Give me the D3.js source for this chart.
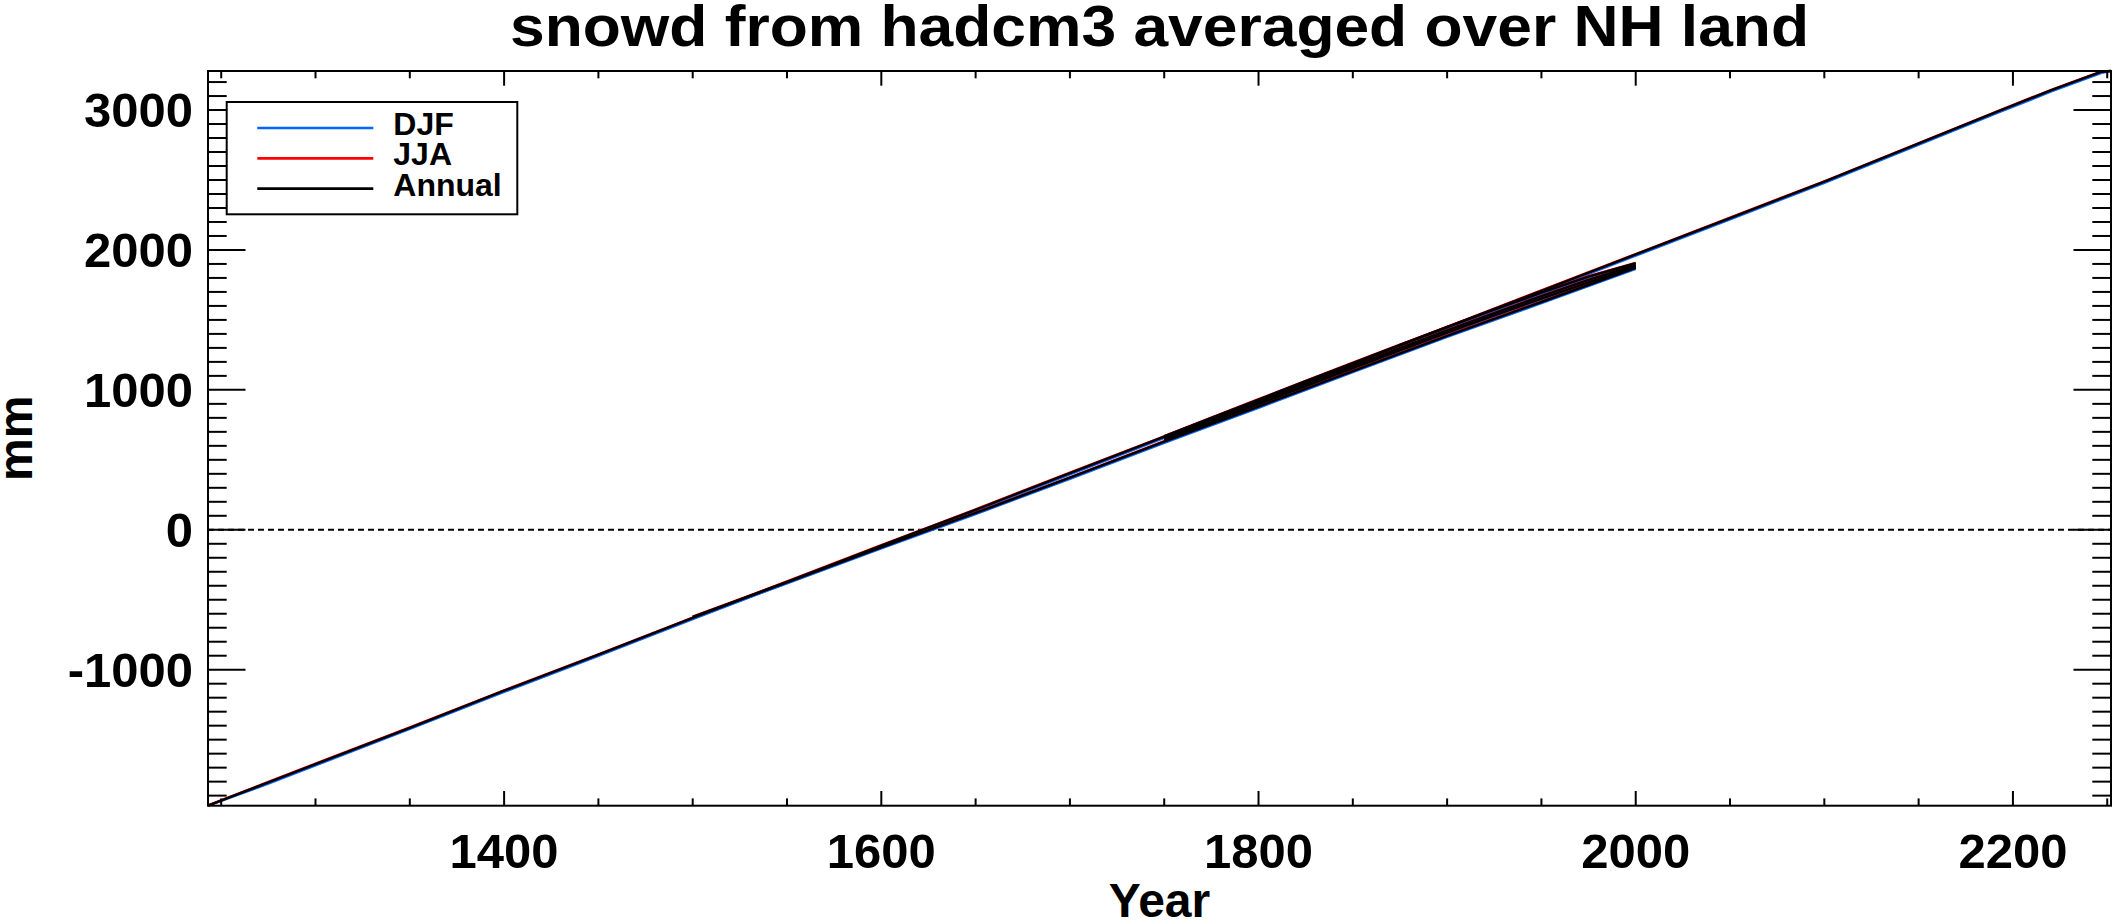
<!DOCTYPE html>
<html>
<head>
<meta charset="utf-8">
<script src="https://cdn.jsdelivr.net/npm/d3@7/dist/d3.min.js"></script>
<style>
  html, body { margin: 0; padding: 0; background: #ffffff; }
  svg { display: block; }
  text { font-family: "Liberation Sans", Arial, Helvetica, sans-serif; font-weight: bold; fill: #000; }
</style>
</head>
<body>
<svg id="chart" width="2112" height="923"></svg>
<script>
// ---------------- DATA ----------------
const titleText = "snowd from hadcm3 averaged over NH land";
const xTitle = "Year";
const yTitle = "mm";
const seriesNames = ["DJF", "JJA", "Annual"];
const seriesColors = ["#0066ff", "#ff0000", "#000000"];

const xRange = [1243, 2252];
const yRange = [-1972, 3279];
const xTicks = [1400, 1600, 1800, 2000, 2200];
const xMinorTicks = [1250,1300,1350,1400,1450,1500,1550,1600,1650,1700,1750,1800,1850,1900,1950,2000,2050,2100,2150,2200,2250];
const yTicks = [-1000, 0, 1000, 2000, 3000];
const yMinorTicks = [-1900,-1800,-1700,-1600,-1500,-1400,-1300,-1200,-1100,-1000,-900,-800,-700,-600,-500,-400,-300,-200,-100,0,
  100,200,300,400,500,600,700,800,900,1000,1100,1200,1300,1400,1500,1600,1700,1800,1900,2000,
  2100,2200,2300,2400,2500,2600,2700,2800,2900,3000,3100,3200];

// long control run
const ctrlYears = [1243,1275,1300,1350,1400,1450,1500,1550,1600,1625,1650,1700,1750,1800,1850,1900,1950,2000,2050,2100,2140,2193,2220,2247,2252];
const ctrlDJF   = [-1972,-1814,-1684,-1423,-1159,-901,-639,-380,-122,7,134,396,656,916,1178,1439,1699,1959,2219,2479,2697,2986,3131,3266,3279];
const ctrlJJA   = [-1970,-1802,-1672,-1412,-1147,-890,-627,-369,-110,18,146,408,668,928,1190,1451,1711,1971,2231,2491,2709,2998,3143,3276,3279];
const ctrlAnn   = [-1972,-1805,-1675,-1415,-1150,-893,-630,-372,-113,15,143,405,665,925,1187,1448,1708,1968,2228,2488,2706,2995,3140,3274,3279];

// run starting 1500
const histYears = [1500,1550,1600,1650,1700,1750,1800,1850,1900,1950,2000];
const histDJF   = [-630,-383,-133,112,364,622,872,1126,1378,1620,1864];
const histJJA   = [-620,-372,-122,123,375,633,883,1137,1389,1631,1875];
const histAnn   = [-622,-375,-125,120,372,630,880,1134,1386,1628,1872];

// ensemble runs 1750-2000
const ensYears = [1750,1775,1800,1825,1850,1875,1900,1925,1950,1975,2000];
const ens1DJF  = [660,792,923,1054,1184,1314,1441,1565,1687,1802,1897];
const ens1JJA  = [670,802,933,1064,1194,1324,1451,1575,1697,1812,1907];
const ens1Ann  = [668,800,931,1062,1192,1322,1449,1573,1695,1810,1905];
const ens2DJF  = [647,776,905,1034,1163,1291,1417,1541,1662,1778,1884];
const ens2JJA  = [657,786,915,1044,1173,1301,1427,1551,1672,1788,1894];
const ens2Ann  = [655,784,913,1042,1171,1299,1425,1549,1670,1786,1892];
const ens3DJF  = [634,762,890,1018,1147,1275,1401,1524,1644,1760,1872];
const ens3JJA  = [644,772,900,1028,1157,1285,1411,1534,1654,1770,1882];
const ens3Ann  = [642,770,898,1026,1155,1283,1409,1532,1652,1768,1880];

// ---------------- DRAW ----------------
const svg = d3.select("#chart");
const L = 208, R = 2111, T = 71, B = 805.7;
const x = d3.scaleLinear().domain(xRange).range([L, R]);
const y = d3.scaleLinear().domain(yRange).range([B, T]);

svg.append("rect").attr("width", 2112).attr("height", 923).attr("fill", "#fff");

// zero line (dashed)
svg.append("line")
  .attr("x1", L).attr("x2", R).attr("y1", y(0)).attr("y2", y(0))
  .attr("stroke", "#000").attr("stroke-width", 2).attr("stroke-dasharray", "6,4");

// data
const runs = [
  {years: ctrlYears, s: [ctrlDJF, ctrlJJA, ctrlAnn]},
  {years: histYears, s: [histDJF, histJJA, histAnn]},
  {years: ensYears, s: [ens1DJF, ens1JJA, ens1Ann]},
  {years: ensYears, s: [ens2DJF, ens2JJA, ens2Ann]},
  {years: ensYears, s: [ens3DJF, ens3JJA, ens3Ann]}
];
const line = d3.line().x(d => x(d[0])).y(d => y(d[1]));
const dataG = svg.append("g");
for (let k = 0; k < 3; k++) {
  runs.forEach(r => {
    const pts = r.years.map((yr, i) => [yr, r.s[k][i]]);
    dataG.append("path")
      .attr("d", line(pts))
      .attr("fill", "none")
      .attr("stroke", seriesColors[k])
      .attr("stroke-width", 2.4)
      .attr("stroke-linejoin", "round");
  });
}

// frame
const axG = svg.append("g").attr("stroke", "#000").attr("stroke-width", 2);
axG.append("rect").attr("x", L).attr("y", T).attr("width", R - L).attr("height", B - T).attr("fill", "none");

const xMajLen = 14.7, xMinLen = 7.3, yMajLen = 37.5, yMinLen = 18.7;
xMinorTicks.forEach(v => {
  const len = xTicks.includes(v) ? xMajLen : xMinLen;
  axG.append("line").attr("x1", x(v)).attr("x2", x(v)).attr("y1", B).attr("y2", B - len);
  axG.append("line").attr("x1", x(v)).attr("x2", x(v)).attr("y1", T).attr("y2", T + len);
});
yMinorTicks.forEach(v => {
  const len = yTicks.includes(v) ? yMajLen : yMinLen;
  axG.append("line").attr("y1", y(v)).attr("y2", y(v)).attr("x1", L).attr("x2", L + len);
  axG.append("line").attr("y1", y(v)).attr("y2", y(v)).attr("x1", R).attr("x2", R - len);
});

// tick labels
svg.selectAll(".xl").data(xTicks).enter().append("text")
  .attr("x", d => x(d)).attr("y", 868).attr("text-anchor", "middle")
  .attr("font-size", 49).text(d => d);
svg.selectAll(".yl").data(yTicks).enter().append("text")
  .attr("x", 193).attr("y", d => y(d) + 17).attr("text-anchor", "end")
  .attr("font-size", 49).text(d => d);

// titles
svg.append("text").attr("x", (L + R) / 2).attr("y", 46).attr("text-anchor", "middle")
  .attr("font-size", 58).attr("textLength", 1299).attr("lengthAdjust", "spacingAndGlyphs").text(titleText);
svg.append("text").attr("x", (L + R) / 2).attr("y", 917).attr("text-anchor", "middle")
  .attr("font-size", 48).text(xTitle);
svg.append("text").attr("transform", `translate(32,${(T + B) / 2}) rotate(-90)`)
  .attr("text-anchor", "middle").attr("font-size", 48).text(yTitle);

// legend
const lg = svg.append("g");
lg.append("rect").attr("x", 226.7).attr("y", 102).attr("width", 290.6).attr("height", 112.3)
  .attr("fill", "#fff").attr("stroke", "#000").attr("stroke-width", 2);
seriesNames.forEach((n, i) => {
  const ly = 128 + i * 30.3;
  lg.append("line").attr("x1", 257.3).attr("x2", 373.3).attr("y1", ly).attr("y2", ly)
    .attr("stroke", seriesColors[i]).attr("stroke-width", 2.7);
  lg.append("text").attr("x", 393.3).attr("y", ly + 7).attr("font-size", 32).text(n);
});
</script>
</body>
</html>
